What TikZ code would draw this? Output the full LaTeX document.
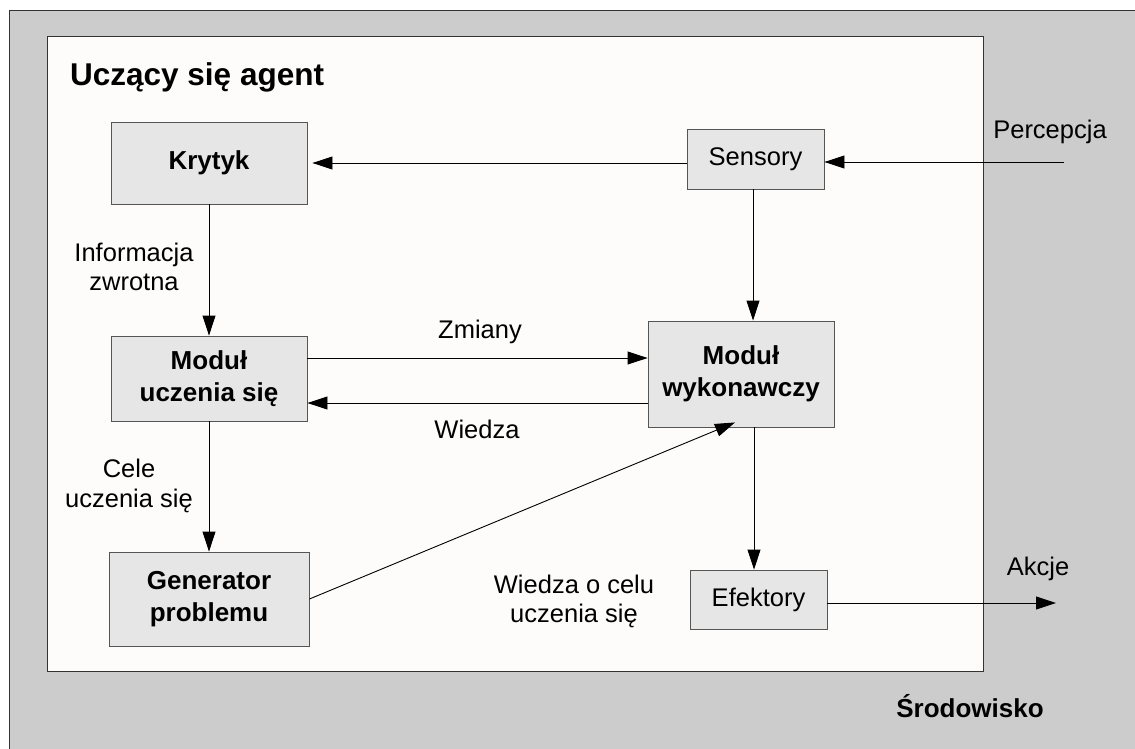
\documentclass[tikz,border=0pt]{standalone}
\usepackage{fontspec}
\setmainfont{Liberation Sans}
\usetikzlibrary{arrows.meta,calc}
\definecolor{outerfill}{HTML}{CCCCCC}
\definecolor{innerfill}{HTML}{FDFCFB}
\definecolor{boxfill}{HTML}{E6E6E6}
\definecolor{boxline}{HTML}{555555}
\definecolor{frameline}{HTML}{333333}
\begin{document}
\begin{tikzpicture}[x=1pt,y=-1pt,
  box/.style={draw=boxline, fill=boxfill, line width=0.9pt, inner sep=0pt, align=center},
  bbox/.style={box, font=\fontsize{26}{32}\selectfont\bfseries},
  rbox/.style={box, font=\fontsize{25.5}{30}\selectfont},
  lbl/.style={font=\fontsize{25.5}{30}\selectfont, inner sep=0pt, anchor=base},
  arr/.style={-{Triangle[length=20pt,width=13pt]}, line width=0.9pt, draw=black},
]
\useasboundingbox (0,0) rectangle (1135,749);
% environment and agent frames
\fill[outerfill] (9,11) rectangle (1135,749);
\draw[frameline, line width=1pt] (9,749) -- (9,11) -- (1135,11);
\draw[frameline, line width=1pt, fill=innerfill] (47,37) rectangle (983,671);

\node[anchor=base west, inner sep=0pt, font=\fontsize{31.5}{36}\selectfont\bfseries] (title) at (70,86) {Uczący się agent};

% boxes
\node[bbox, minimum width=196pt, minimum height=82pt] (K) at (209,163) {Krytyk};
\node[rbox, minimum width=137pt, minimum height=60pt] (S) at (755.5,159) {Sensory};
\node[bbox, minimum width=196pt, minimum height=85pt] (ML) at (209,378.5) {Moduł\\uczenia się};
\node[bbox, minimum width=186pt, minimum height=106pt] (MW) at (741,374) {Moduł\\wykonawczy};
\node[bbox, minimum width=200pt, minimum height=94pt] (G) at (209,599) {Generator\\problemu};
\node[rbox, minimum width=137pt, minimum height=59pt] (E) at (758.5,599.5) {Efektory};

% labels
\node[lbl] (perc) at (1050,139) {Percepcja};
\node[lbl] (akc) at (1038,575) {Akcje};
\node[lbl, font=\fontsize{26}{30}\selectfont\bfseries] (srod) at (970,717) {Środowisko};
\node[lbl] (zm) at (480,338) {Zmiany};
\node[lbl] (wd) at (477,438) {Wiedza};
\node[lbl] (infA) at (134,261) {Informacja};
\node[lbl] (infB) at (134,290) {zwrotna};
\node[lbl] (celA) at (129,477) {Cele};
\node[lbl] (celB) at (129,507) {uczenia się};
\node[lbl] (wocA) at (574,593) {Wiedza o celu};
\node[lbl] (wocB) at (574,622) {uczenia się};

% helper coordinates
\coordinate (pin) at (1064,162);
\coordinate (aout) at (1056,603);
\coordinate (zy) at (0,358);
\coordinate (wy) at (0,403);

% connectors
\draw[arr] (S.west |- K.east) -- ([xshift=5pt]K.east);
\draw[arr] (pin) -- (S.east |- pin);
\draw[arr] ([xshift=-2.5pt]S.south) -- ([xshift=-2.5pt]S.south |- MW.north);
\draw[arr] (K.south) -- (ML.north);
\draw[arr] (ML.east |- zy) -- (MW.west |- zy);
\draw[arr] (MW.west |- wy) -- (ML.east |- wy);
\draw[arr] (ML.south) -- (G.north);
\draw[arr] (G.east) -- ([shift={(-6pt,5pt)}]MW.south);
\draw[arr] ([xshift=-4.5pt]E.north |- MW.south) -- ([xshift=-4.5pt]E.north);
\draw[arr] (E.east |- aout) -- (aout);
\end{tikzpicture}
\end{document}
